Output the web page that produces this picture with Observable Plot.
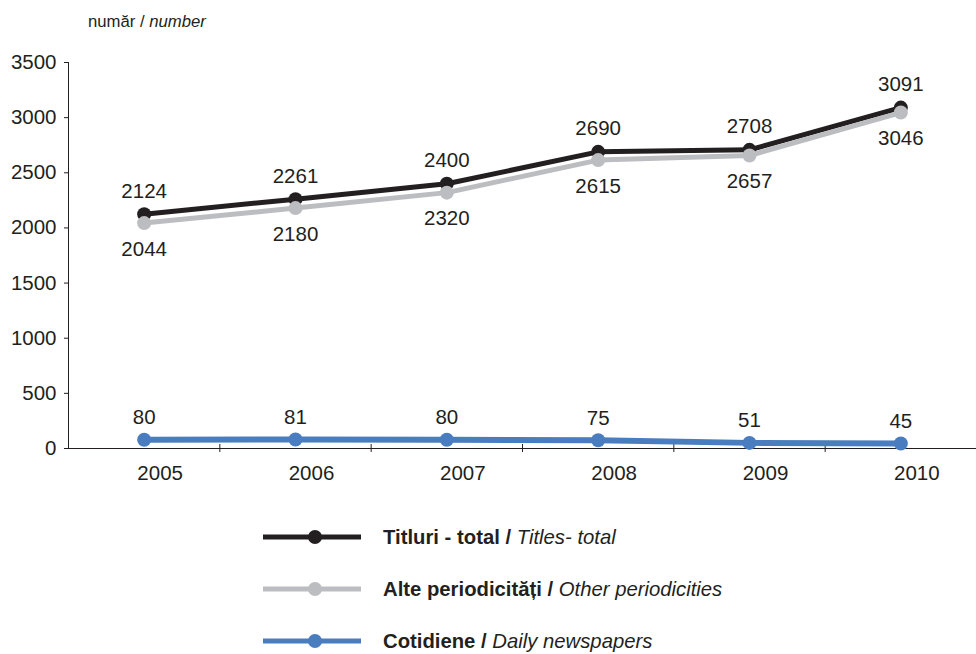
<!DOCTYPE html>
<html>
<head>
<meta charset="utf-8">
<script src="https://cdn.jsdelivr.net/npm/d3@7"></script>
<script src="https://cdn.jsdelivr.net/npm/@observablehq/plot@0.6"></script>
<style>
  body { margin: 0; background: #fff; font-family: "Liberation Sans", Arial, sans-serif; color: #231f20; }
  #wrap { position: relative; width: 976px; height: 654px; }
  #title { position: absolute; left: 88px; top: 11px; font-size: 16.7px; line-height: 22px; }
  #legend { position: absolute; left: 0; top: 520px; width: 976px; }
  .row { position: absolute; left: 263px; height: 30px; display: flex; align-items: center; }
  .row svg { display: block; }
  .row span.t { margin-left: 22px; font-size: 20.3px; white-space: nowrap; }
</style>
</head>
<body>
<div id="wrap">
  <div id="chart"></div>
  <div id="title">număr / <i>number</i></div>
  <div id="legend"></div>
</div>
<script>
const years = [2005, 2006, 2007, 2008, 2009, 2010];
const titluriTotal = [2124, 2261, 2400, 2690, 2708, 3091];
const altePeriodicitati = [2044, 2180, 2320, 2615, 2657, 3046];
const cotidiene = [80, 81, 80, 75, 51, 45];
const yTicks = [0, 500, 1000, 1500, 2000, 2500, 3000, 3500];
const seriesNames = [
  {ro: "Titluri - total", en: "Titles- total", color: "#231f20"},
  {ro: "Alte periodicități", en: "Other periodicities", color: "#bcbdc0"},
  {ro: "Cotidiene", en: "Daily newspapers", color: "#4a7dbf"}
];

const mk = (vals) => years.map((y, i) => ({year: y, value: vals[i]}));
const tot = mk(titluriTotal), alt = mk(altePeriodicitati), cot = mk(cotidiene);
const boundaries = years.slice(0, -1).map(y => y + 0.5);
const ink = "#231f20";
const fs = 20.5;

const chart = Plot.plot({
  width: 976,
  height: 500,
  marginLeft: 68,
  marginRight: 0,
  marginTop: 62,
  marginBottom: 52,
  style: {fontFamily: "Liberation Sans, Arial, sans-serif", color: ink, background: "#fff", overflow: "visible"},
  x: {type: "linear", domain: [2004.5, 2010.5], axis: null, label: null},
  y: {domain: [0, 3500], axis: null, label: null},
  marks: [
    Plot.axisY({ticks: yTicks, tickSize: 4, tickPadding: 8, fontSize: fs, stroke: ink, fill: ink, label: null, tickFormat: d => String(d)}),
    Plot.axisX({ticks: years, tickSize: 0, tickPadding: 17, fontSize: fs, fill: ink, dx: 16, label: null, tickFormat: d => String(d)}),
    Plot.axisX({ticks: boundaries, tickSize: 8, dy: -4, stroke: ink, label: null, tickFormat: () => ""}),
    Plot.ruleX([2004.5], {stroke: ink, strokeWidth: 1}),
    Plot.ruleY([0], {stroke: ink, strokeWidth: 1}),
    Plot.line(tot, {x: "year", y: "value", stroke: seriesNames[0].color, strokeWidth: 5}),
    Plot.dot(tot, {x: "year", y: "value", r: 7, fill: seriesNames[0].color}),
    Plot.line(alt, {x: "year", y: "value", stroke: seriesNames[1].color, strokeWidth: 5}),
    Plot.dot(alt, {x: "year", y: "value", r: 7, fill: seriesNames[1].color}),
    Plot.line(cot, {x: "year", y: "value", stroke: seriesNames[2].color, strokeWidth: 6}),
    Plot.dot(cot, {x: "year", y: "value", r: 7, fill: seriesNames[2].color}),
    Plot.text(tot, {x: "year", y: "value", text: d => String(d.value), dy: -23, fontSize: fs, fill: ink}),
    Plot.text(alt, {x: "year", y: "value", text: d => String(d.value), dy: 26, fontSize: fs, fill: ink}),
    Plot.text(cot, {x: "year", y: "value", text: d => String(d.value), dy: -22, fontSize: fs, fill: ink})
  ]
});
document.getElementById("chart").appendChild(chart);

const legend = document.getElementById("legend");
const rowTops = [2, 54, 106];
seriesNames.forEach((s, i) => {
  const row = document.createElement("div");
  row.className = "row";
  row.style.top = rowTops[i] + "px";
  row.innerHTML = `<svg width="98" height="16"><line x1="0" x2="98" y1="8" y2="8" stroke="${s.color}" stroke-width="5"/><circle cx="52" cy="8" r="7" fill="${s.color}"/></svg><span class="t"><b>${s.ro} /</b> <i>${s.en}</i></span>`;
  legend.appendChild(row);
});
</script>
</body>
</html>
